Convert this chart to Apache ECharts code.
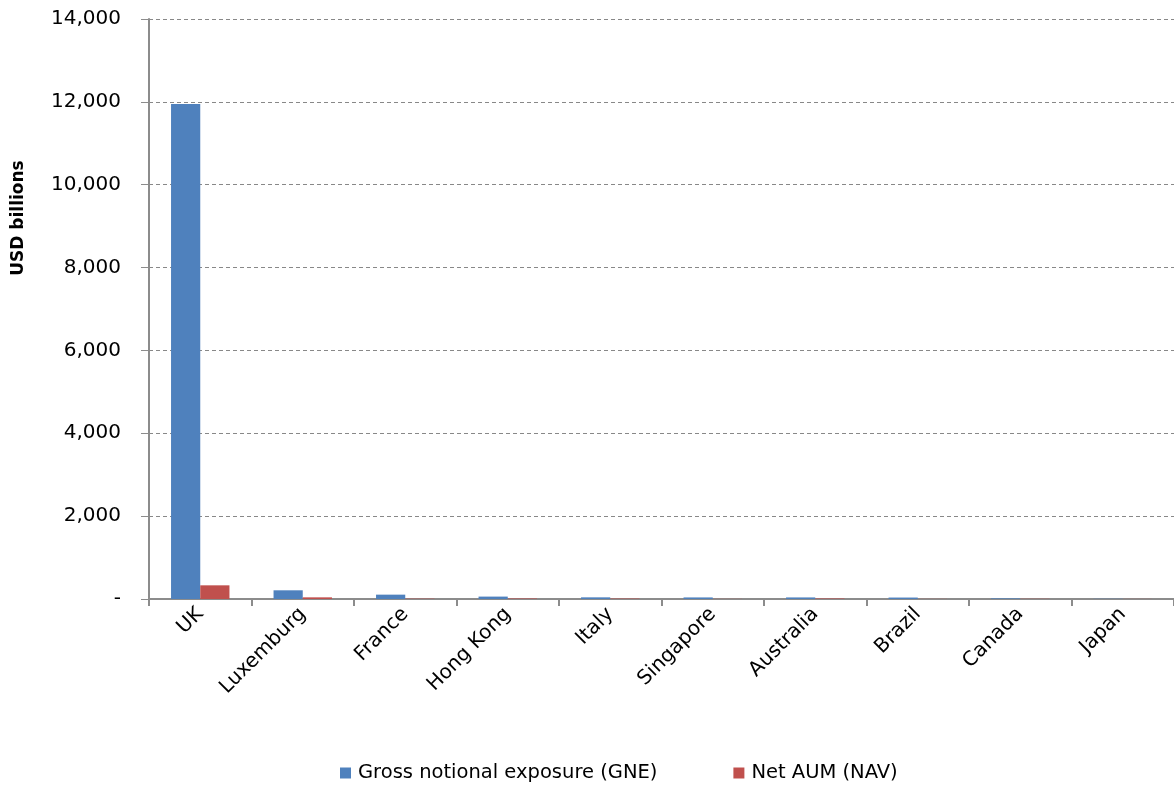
<!DOCTYPE html>
<html><head><meta charset="utf-8">
<script src="https://cdn.jsdelivr.net/npm/echarts@6/dist/echarts.min.js"></script>
<style>html,body{margin:0;padding:0;background:#fff}#c{width:1174px;height:785px}</style>
</head><body><div id="c"></div>
<script>
const categories = ['UK','Luxemburg','France','Hong Kong','Italy','Singapore','Australia','Brazil','Canada','Japan'];
const gne = [11950, 210, 105, 58, 40, 38, 38, 35, 15, 5];
const nav = [330, 40, 8, 12, 10, 3, 12, 3, 5, 2];
const seriesNames = ['Gross notional exposure (GNE)', 'Net AUM (NAV)'];
const yTicks = [0, 2000, 4000, 6000, 8000, 10000, 12000, 14000];

const font = 'DejaVu Sans';
const chart = echarts.init(document.getElementById('c'));
chart.setOption({
  animation: false,
  textStyle: {fontFamily: font},
  grid: {left: 149, right: 0, top: 19, bottom: 186, containLabel: false},
  legend: {
    bottom: -3, left: 335, itemWidth: 11, itemHeight: 11, itemGap: 76, icon: 'rect',
    textStyle: {fontSize: 19.5, color: '#000', fontFamily: font, padding: [0, 0, 0, 2]},
    data: seriesNames
  },
  graphic: [{
    type: 'text', x: 19, y: 218, rotation: Math.PI / 2,
    style: {text: 'USD billions', font: 'bold 17px "DejaVu Sans"', fill: '#000', align: 'center', verticalAlign: 'middle'}
  }],
  xAxis: {
    type: 'category', data: categories,
    axisLine: {lineStyle: {color: '#8c8c8c', width: 2}},
    axisTick: {show: true, length: 7, lineStyle: {color: '#8c8c8c', width: 2}},
    axisLabel: {rotate: 45, fontSize: 20, color: '#000', margin: 12, interval: 0}
  },
  yAxis: {
    type: 'value', min: yTicks[0], max: yTicks[yTicks.length - 1], interval: 2000,
    axisLine: {show: true, lineStyle: {color: '#8c8c8c', width: 2}},
    axisTick: {show: true, length: 8, lineStyle: {color: '#8c8c8c', width: 1}},
    axisLabel: {fontSize: 20, color: '#000', margin: 28,
      formatter: v => v === 0 ? '-' : v.toLocaleString('en-US')},
    splitLine: {lineStyle: {color: '#888', type: [4, 3], width: 1}}
  },
  series: [
    {name: seriesNames[0], type: 'bar', data: gne, itemStyle: {color: '#4F81BD'}, barGap: '0%', barCategoryGap: '43%'},
    {name: seriesNames[1], type: 'bar', data: nav, itemStyle: {color: '#C0504D'}, barGap: '0%', barCategoryGap: '43%'}
  ]
});
</script></body></html>
